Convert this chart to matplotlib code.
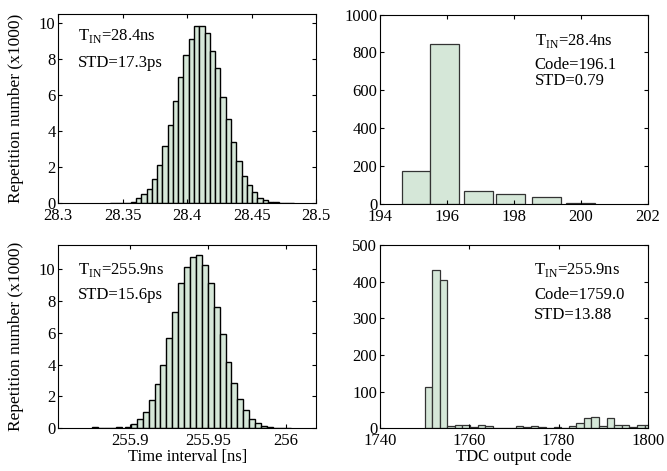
import matplotlib
matplotlib.use('Agg')
import matplotlib.pyplot as plt

plt.rcParams['font.family'] = ['Liberation Serif', 'DejaVu Serif']
plt.rcParams['mathtext.fontset'] = 'custom'
plt.rcParams['mathtext.rm'] = 'Liberation Serif'
plt.rcParams['font.size'] = 12

# --- data ---
# top left: time interval histogram, T_IN = 28.4 ns (x1000 counts)
tl_x = [28.3418, 28.3459, 28.3500, 28.3541,
        28.3582, 28.3623, 28.3664, 28.3705, 28.3746, 28.3787, 28.3828, 28.3869,
        28.3910, 28.3951, 28.3992, 28.4033, 28.4074, 28.4115, 28.4156, 28.4197,
        28.4238, 28.4279, 28.4320, 28.4361, 28.4402, 28.4443, 28.4484, 28.4525,
        28.4566, 28.4607, 28.4648,
        28.4689, 28.4730, 28.4771, 28.4812]
tl_y = [0.02, 0.03, 0.02, 0.05,
        0.10, 0.33, 0.53, 0.83, 1.38, 2.14, 3.17, 4.35, 5.70, 7.03, 8.23, 9.12,
        9.82, 9.85, 9.45, 8.47, 7.50, 5.90, 4.70, 3.40, 2.36, 1.53, 1.03, 0.63,
        0.33, 0.18, 0.10,
        0.06, 0.03, 0.02, 0.03]
tl_w = 0.0041

# bottom left: time interval histogram, T_IN = 255.9 ns
bl_x = [255.8778, 255.8816, 255.8854, 255.8892, 255.8930,
        255.8987, 255.9025, 255.9063, 255.9101, 255.9139, 255.9177, 255.9215,
        255.9253, 255.9291, 255.9329, 255.9367, 255.9405, 255.9443, 255.9481,
        255.9519, 255.9557, 255.9595, 255.9633, 255.9671, 255.9709, 255.9747,
        255.9785, 255.9823, 255.9861,
        255.9899, 255.9937, 255.9975, 256.0013]
bl_y = [0.06, 0.00, 0.03, 0.04, 0.06,
        0.10, 0.27, 0.57, 1.00, 1.76, 2.75, 3.96, 5.66, 7.32, 9.12, 10.10,
        10.75, 10.86, 10.27, 9.12, 7.61, 5.89, 4.19, 2.87, 1.84, 1.15, 0.57,
        0.31, 0.15,
        0.06, 0.03, 0.03, 0.04]
bl_w = 0.0038

# top right: TDC output code histogram, T_IN = 28.4 ns
tr_x = [195.08, 195.93, 196.94, 197.89, 198.97, 199.98]
tr_y = [174, 845, 67, 55, 35, 7]
tr_w = 0.85

# bottom right: TDC output code histogram, T_IN = 255.9 ns
br_x = [1750.9, 1752.5, 1754.2, 1755.9, 1757.6, 1759.3, 1761.0, 1762.7,
        1764.4, 1766.1, 1767.8, 1769.5, 1771.2, 1772.9, 1774.6, 1776.3,
        1778.0, 1779.7, 1781.4, 1783.1, 1784.8, 1786.5, 1788.2, 1789.9,
        1791.6, 1793.3, 1795.0, 1796.7, 1798.4, 1800.1]
br_y = [112, 432, 406, 5, 8, 8, 4, 8,
        5, 0, 0, 1, 6, 4, 6, 3,
        0, 3, 0, 6, 15, 28, 32, 6,
        28, 8, 8, 3, 8, 8]
br_w = 1.7

face = '#d5e7d8'

fig = plt.figure(figsize=(6.67, 4.71), dpi=100)
ax_tl = fig.add_axes([0.0874, 0.568, 0.3864, 0.402])
ax_tr = fig.add_axes([0.5697, 0.567, 0.4018, 0.402])
ax_bl = fig.add_axes([0.0874, 0.0907, 0.3864, 0.389])
ax_br = fig.add_axes([0.5697, 0.0907, 0.4018, 0.389])

ax_tl.bar(tl_x, tl_y, width=tl_w, color=face, edgecolor='black', linewidth=1.0)
ax_bl.bar(bl_x, bl_y, width=bl_w, color=face, edgecolor='black', linewidth=1.0)
ax_tr.bar(tr_x, tr_y, width=tr_w, color=face, edgecolor='#333333', linewidth=0.9)
ax_br.bar(br_x, br_y, width=br_w, color=face, edgecolor='#333333', linewidth=0.9)

ax_tl.set_xlim(28.3, 28.5)
ax_tl.set_ylim(0, 10.5)
ax_tl.set_xticks([28.3, 28.35, 28.4, 28.45, 28.5])
ax_tl.set_xticklabels(['28.3', '28.35', '28.4', '28.45', '28.5'])
ax_tl.set_yticks([0, 2, 4, 6, 8, 10])

ax_bl.set_xlim(255.854, 256.0195)
ax_bl.set_ylim(0, 11.5)
ax_bl.set_xticks([255.9, 255.95, 256])
ax_bl.set_xticklabels(['255.9', '255.95', '256'])
ax_bl.set_yticks([0, 2, 4, 6, 8, 10])

ax_tr.set_xlim(194, 202)
ax_tr.set_ylim(0, 1000)
ax_tr.set_xticks([194, 196, 198, 200, 202])
ax_tr.set_yticks([0, 200, 400, 600, 800, 1000])

ax_br.set_xlim(1740, 1800)
ax_br.set_ylim(0, 500)
ax_br.set_xticks([1740, 1760, 1780, 1800])
ax_br.set_yticks([0, 100, 200, 300, 400, 500])

for ax in (ax_tl, ax_tr, ax_bl, ax_br):
    ax.tick_params(direction='in', top=True, right=True, length=3,
                   width=0.8, labelsize=12)
    ax.tick_params(axis='x', pad=3.5)
    ax.tick_params(axis='y', pad=2)
    for s in ax.spines.values():
        s.set_linewidth(0.8)

ax_tl.set_ylabel('Repetition number (x1000)', fontsize=12.5)
ax_bl.set_ylabel('Repetition number (x1000)', fontsize=12.5)
ax_tl.yaxis.set_label_coords(-0.135, 0.5)
ax_bl.yaxis.set_label_coords(-0.135, 0.5)
ax_bl.set_xlabel('Time interval [ns]', fontsize=12, labelpad=0)
ax_br.set_xlabel('TDC output code', fontsize=12, labelpad=0)

# annotations
ax_tl.text(0.076, 0.886, r'T$_{\rm IN}$=28.4ns', transform=ax_tl.transAxes, va='center')
ax_tl.text(0.076, 0.743, 'STD=17.3ps', transform=ax_tl.transAxes, va='center')

ax_bl.text(0.076, 0.864, r'T$_{\rm IN}$=255.9ns', transform=ax_bl.transAxes, va='center')
ax_bl.text(0.076, 0.727, 'STD=15.6ps', transform=ax_bl.transAxes, va='center')

ax_tr.text(0.577, 0.859, r'T$_{\rm IN}$=28.4ns', transform=ax_tr.transAxes, va='center')
ax_tr.text(0.577, 0.736, 'Code=196.1', transform=ax_tr.transAxes, va='center')
ax_tr.text(0.577, 0.648, 'STD=0.79', transform=ax_tr.transAxes, va='center')

ax_br.text(0.576, 0.864, r'T$_{\rm IN}$=255.9ns', transform=ax_br.transAxes, va='center')
ax_br.text(0.576, 0.727, 'Code=1759.0', transform=ax_br.transAxes, va='center')
ax_br.text(0.576, 0.618, 'STD=13.88', transform=ax_br.transAxes, va='center')

fig.savefig('out.png', dpi=100)
